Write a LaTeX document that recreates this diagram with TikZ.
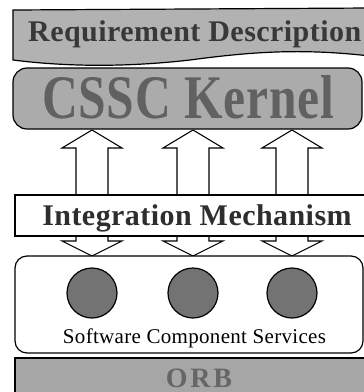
\documentclass[tikz,border=0pt]{standalone}
\usepackage{fontspec}
\setmainfont{Liberation Serif}
\begin{document}
\begin{tikzpicture}[x=1pt,y=-1pt,
  outl/.style={draw=black, line width=1.2pt},
  blockarrow/.style={draw=black, line width=1.1pt, fill=white, line join=miter},
  lbl/.style={inner sep=0pt, anchor=base},
  dot/.style={circle, draw=black, line width=1.2pt, fill=black!55, minimum size=50pt, inner sep=0pt},
]
\useasboundingbox (0,0) rectangle (364,392);
\clip (0,0) rectangle (364,392);

% up arrows
\foreach \cx/\n in {92/a,193/b,292/c}{
  \coordinate (up\n) at (\cx,130);
  \draw[blockarrow] (\cx-16,196) -- (\cx-16,148) -- (\cx-30,148) -- (up\n) -- (\cx+30,148) -- (\cx+16,148) -- (\cx+16,196);
}
% down arrows
\foreach \cx/\n in {92/a,193/b,292/c}{
  \coordinate (dn\n) at (\cx,256);
  \draw[blockarrow] (\cx-16,235) -- (\cx-16,241) -- (\cx-30,241) -- (dn\n) -- (\cx+30,241) -- (\cx+16,241) -- (\cx+16,235);
}

% banner
\draw[outl, fill=black!30] (370,8) -- (13,10) -- (13,60) .. controls (60,66) and (120,68) .. (190,60) .. controls (250,52) and (300,48) .. (370,56) -- cycle;
\node[lbl, anchor=base west, text=black!78] (req) at (28,41) {\fontsize{30}{30}\selectfont\bfseries\addfontfeature{LetterSpace=1.5}Requirement Description};

% kernel
\draw[outl, fill=black!33, rounded corners=14] (13,68) rectangle (362,129);
\node[lbl, text=black!62] (kernel) at (188,118) {\fontsize{62}{62}\selectfont\bfseries\addfontfeature{LetterSpace=1.5}\scalebox{0.8}[1]{CSSC Kernel}};

% integration
\draw[outl, fill=white] (372,195) -- (15,195) -- (15,236) -- (372,236);
\node[lbl, text=black!82] (integ) at (197,225) {\fontsize{30}{30}\selectfont\bfseries\addfontfeature{LetterSpace=1.5}Integration Mechanism};

% services
\draw[outl, fill=white, rounded corners=12] (15,256) rectangle (363,353);
\node[dot] (s1) at (92,293) {};
\node[dot] (s2) at (193,293) {};
\node[dot] (s3) at (292,293) {};
\node[lbl] (scs) at (194.5,343) {\fontsize{21}{21}\selectfont\addfontfeature{LetterSpace=1.5}Software Component Services};

% ORB
\fill[black!35] (15,358) rectangle (372,400);
\draw[outl] (372,358) -- (15,358) -- (15,400);
\node[lbl, text=black!60] (orb) at (199,387) {\fontsize{28}{28}\selectfont\bfseries\addfontfeature{LetterSpace=10}ORB};
\end{tikzpicture}
\end{document}
